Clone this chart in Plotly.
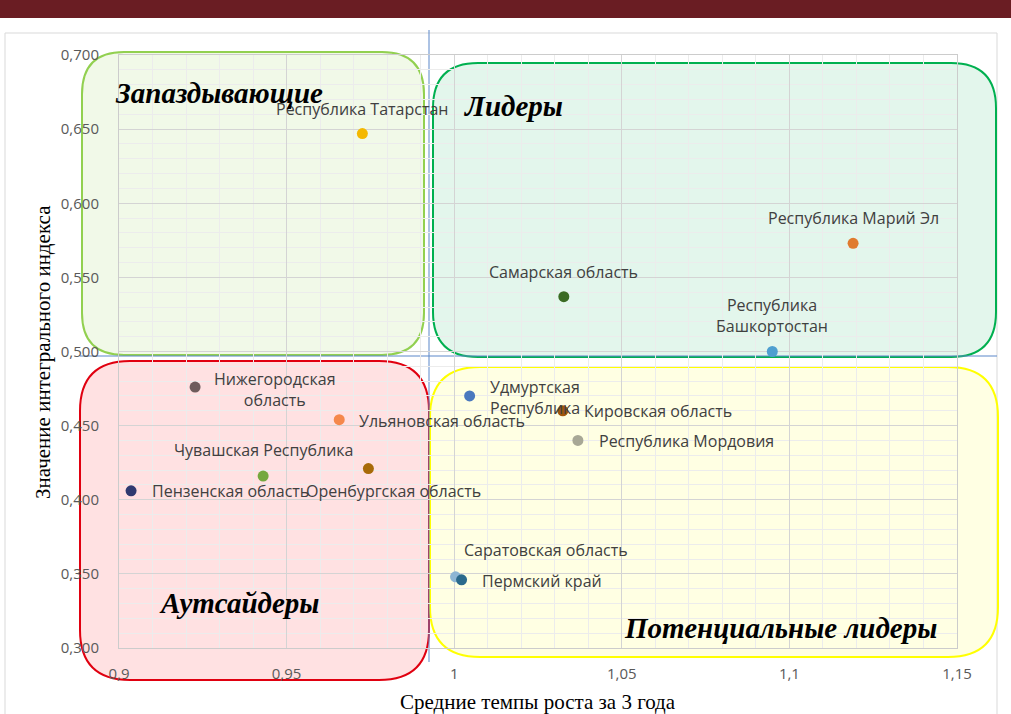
import plotly.graph_objects as go

# ---- data ----
regions = [
    "Республика Татарстан", "Республика Марий Эл", "Самарская область",
    "Республика<br>Башкортостан", "Нижегородская<br>область", "Ульяновская область",
    "Чувашская Республика", "Оренбургская область", "Пензенская область",
    "Удмуртская<br>Республика", "Кировская область", "Республика Мордовия",
    "Саратовская область", "Пермский край",
]
growth = [0.9726, 1.119, 1.0327, 1.0949, 0.9227, 0.9657, 0.943, 0.9744, 0.9036,
          1.0046, 1.0324, 1.0369, 1.0004, 1.0022]
index_val = [0.647, 0.573, 0.537, 0.500, 0.476, 0.454, 0.416, 0.421, 0.406,
             0.470, 0.460, 0.440, 0.348, 0.346]
colors = ["#f4b800", "#e07a2e", "#3b6b24", "#4e9fd0", "#6e5c5c", "#f5884c",
          "#74a83e", "#a86a08", "#2f3a70", "#4a78be", "#a0560c", "#a8a896",
          "#8db6d4", "#2a6a8c"]
quadrants = ["Запаздывающие", "Лидеры", "Аутсайдеры", "Потенциальные лидеры"]
x_ticks = [0.9, 0.95, 1.0, 1.05, 1.1, 1.15]
y_ticks = [0.30, 0.35, 0.40, 0.45, 0.50, 0.55, 0.60, 0.65, 0.70]

# ---- label styling (pixel offsets from marker, anchor, align) ----
label_style = [
    (0, 25, "center", "center"), (0, 25, "center", "center"), (0, 25, "center", "center"),
    (0, 36, "center", "center"), (17, -2, "left", "center"), (18, -1, "left", "left"),
    (0, 26, "center", "center"), (25, -22, "center", "center"), (19, 0, "left", "left"),
    (18, -2, "left", "left"), (19, 0, "left", "left"), (19, -1, "left", "left"),
    (6, 27, "left", "left"), (18, -1, "left", "left"),
]

W, H = 1011, 714
L, R, T, B = 119, 957, 55, 648


def px(x):
    return (x - L) / (R - L)


def py(y):
    return (B - y) / (B - T)


def rrect(x0, y0, x1, y1, r):
    X0, X1 = px(x0), px(x1)
    Y0, Y1 = py(y0), py(y1)  # Y0 top, Y1 bottom
    rx = r / (R - L)
    ry = r / (B - T)
    return (f"M {X0+rx},{Y0} L {X1-rx},{Y0} Q {X1},{Y0} {X1},{Y0-ry} "
            f"L {X1},{Y1+ry} Q {X1},{Y1} {X1-rx},{Y1} "
            f"L {X0+rx},{Y1} Q {X0},{Y1} {X0},{Y1+ry} "
            f"L {X0},{Y0-ry} Q {X0},{Y0} {X0+rx},{Y0} Z")


fig = go.Figure()
fig.add_trace(go.Scatter(
    x=growth, y=index_val, mode="markers",
    marker=dict(size=11, color=colors, line=dict(width=0)),
    hovertext=regions, hoverinfo="text", showlegend=False,
))

shapes = []
# top dark band
shapes.append(dict(type="rect", xref="paper", yref="paper", x0=px(0), x1=px(W),
                   y0=py(18), y1=py(0), fillcolor="#6a1d23", line=dict(width=0), layer="below"))
# chart frame
shapes.append(dict(type="rect", xref="paper", yref="paper", x0=px(5), x1=px(997),
                   y0=py(720), y1=py(33), fillcolor="rgba(0,0,0,0)",
                   line=dict(color="#d9d9d9", width=1), layer="below"))
boxes = [
    ((82, 52, 424, 355, 42), "#92d050", "rgba(146,208,80,0.13)"),
    ((433, 63, 996, 357, 45), "#00b050", "rgba(0,176,80,0.11)"),
    ((80, 361, 429, 680, 50), "#e00010", "rgba(255,40,50,0.14)"),
    ((430, 367, 998, 657, 50), "#ffff00", "rgba(255,255,60,0.14)"),
]
for (g, lc, fc) in boxes:
    shapes.append(dict(type="path", xref="paper", yref="paper", path=rrect(*g),
                       fillcolor=fc, line=dict(color=lc, width=2), layer="below"))
# quadrant divider lines
shapes.append(dict(type="line", xref="paper", yref="paper", x0=px(429), x1=px(429),
                   y0=py(662), y1=py(30), line=dict(color="#5b87c9", width=1), layer="below"))
shapes.append(dict(type="line", xref="paper", yref="paper", x0=px(80), x1=px(997),
                   y0=py(356), y1=py(356), line=dict(color="#5b87c9", width=1), layer="below"))

annotations = []
for name, xv, yv, (dx, dy, anc, al) in zip(regions, growth, index_val, label_style):
    annotations.append(dict(x=xv, y=yv, xref="x", yref="y", text=name, showarrow=False,
                            xshift=dx, yshift=dy, xanchor=anc, yanchor="middle", align=al,
                            font=dict(family="Open Sans", size=16, color="#404040")))

quad_pos = [(113, 93), (462, 106), (157, 603), (622, 628)]
for q, (qx, qy) in zip(quadrants, quad_pos):
    annotations.append(dict(x=px(qx), y=py(qy), xref="paper", yref="paper",
                            text=f"<b><i>{q}</i></b>", showarrow=False,
                            xanchor="left", yanchor="middle",
                            font=dict(family="Liberation Serif", size=29, color="#000000")))

annotations.append(dict(x=px(43), y=py(352), xref="paper", yref="paper",
                        text="Значение интегрального индекса", textangle=-90, showarrow=False,
                        xanchor="center", yanchor="middle",
                        font=dict(family="Liberation Serif", size=21, color="#000000")))
annotations.append(dict(x=px(538), y=py(702), xref="paper", yref="paper",
                        text="Средние темпы роста за 3 года", showarrow=False,
                        xanchor="center", yanchor="middle",
                        font=dict(family="Liberation Serif", size=21, color="#000000")))

tickfont = dict(family="Open Sans", size=15, color="#595959")
fig.update_layout(
    width=W, height=H,
    margin=dict(l=L, r=W - R, t=T, b=H - B),
    paper_bgcolor="white", plot_bgcolor="rgba(0,0,0,0)",
    separators=", ",
    shapes=shapes, annotations=annotations,
    xaxis=dict(range=[0.9, 1.15], tickvals=x_ticks, showgrid=True,
               gridcolor="#d4d4d4", gridwidth=1, zeroline=False,
               showline=True, linecolor="#cccccc", mirror=True,
               minor=dict(dtick=0.01, showgrid=True, gridcolor="#ececec", gridwidth=1),
               tickfont=tickfont, ticks="", ticklabelstandoff=12),
    yaxis=dict(range=[0.3, 0.7], tickvals=y_ticks, tickformat=".3f", showgrid=True,
               gridcolor="#d4d4d4", gridwidth=1, zeroline=False,
               showline=True, linecolor="#cccccc", mirror=True,
               minor=dict(dtick=0.01, showgrid=True, gridcolor="#ececec", gridwidth=1),
               tickfont=tickfont, ticks="", ticklabelstandoff=16),
)

fig.write_html("out.html", config={"displayModeBar": False},
               post_script="document.body.style.margin='0';")
